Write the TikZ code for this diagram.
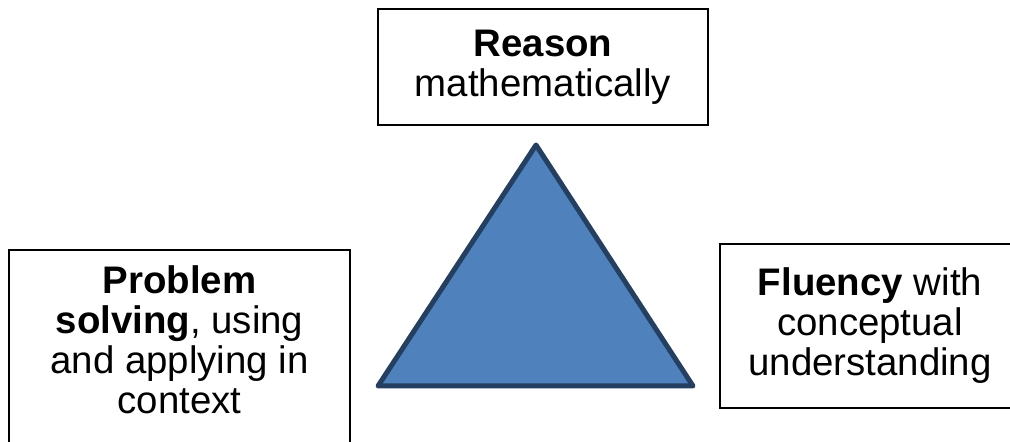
\documentclass[tikz,border=0pt]{standalone}
\usepackage{fontspec}
\setmainfont{Liberation Sans}
\usepackage{xcolor}
\usepackage{tikz}

\definecolor{triblue}{HTML}{4F81BD}
\definecolor{triedge}{HTML}{243F60}

\begin{document}
\begin{tikzpicture}[
    x=0.5pt, y=-0.5pt,
    box/.style={
        rectangle,
        draw,
        line width=1pt,
        align=center,
        inner sep=0pt,
        font=\fontsize{19.2}{20}\selectfont
    },
    tri/.style={
        fill=triblue,
        draw=triedge,
        line width=2.5pt,
        line join=round
    }
]

\useasboundingbox (0,0) rectangle (1010,442);

\node[box, minimum width=165pt, minimum height=58pt] (reason) at (543,67)
{\textbf{Reason}\\mathematically};

\node[box, minimum width=170.5pt, minimum height=98pt, text depth=8pt] (problem) at (179.5,348)
{\textbf{Problem}\\\textbf{solving}, using\\and applying in\\context};

\node[box, minimum width=150pt, minimum height=82pt] (fluency) at (870,326)
{\textbf{Fluency} with\\conceptual\\understanding};


\coordinate (apex) at (536,145);
\coordinate (baseL) at (378,386);
\coordinate (baseR) at (693,386);

\draw[tri] (apex) -- (baseR) -- (baseL) -- cycle;


\end{tikzpicture}
\end{document}
